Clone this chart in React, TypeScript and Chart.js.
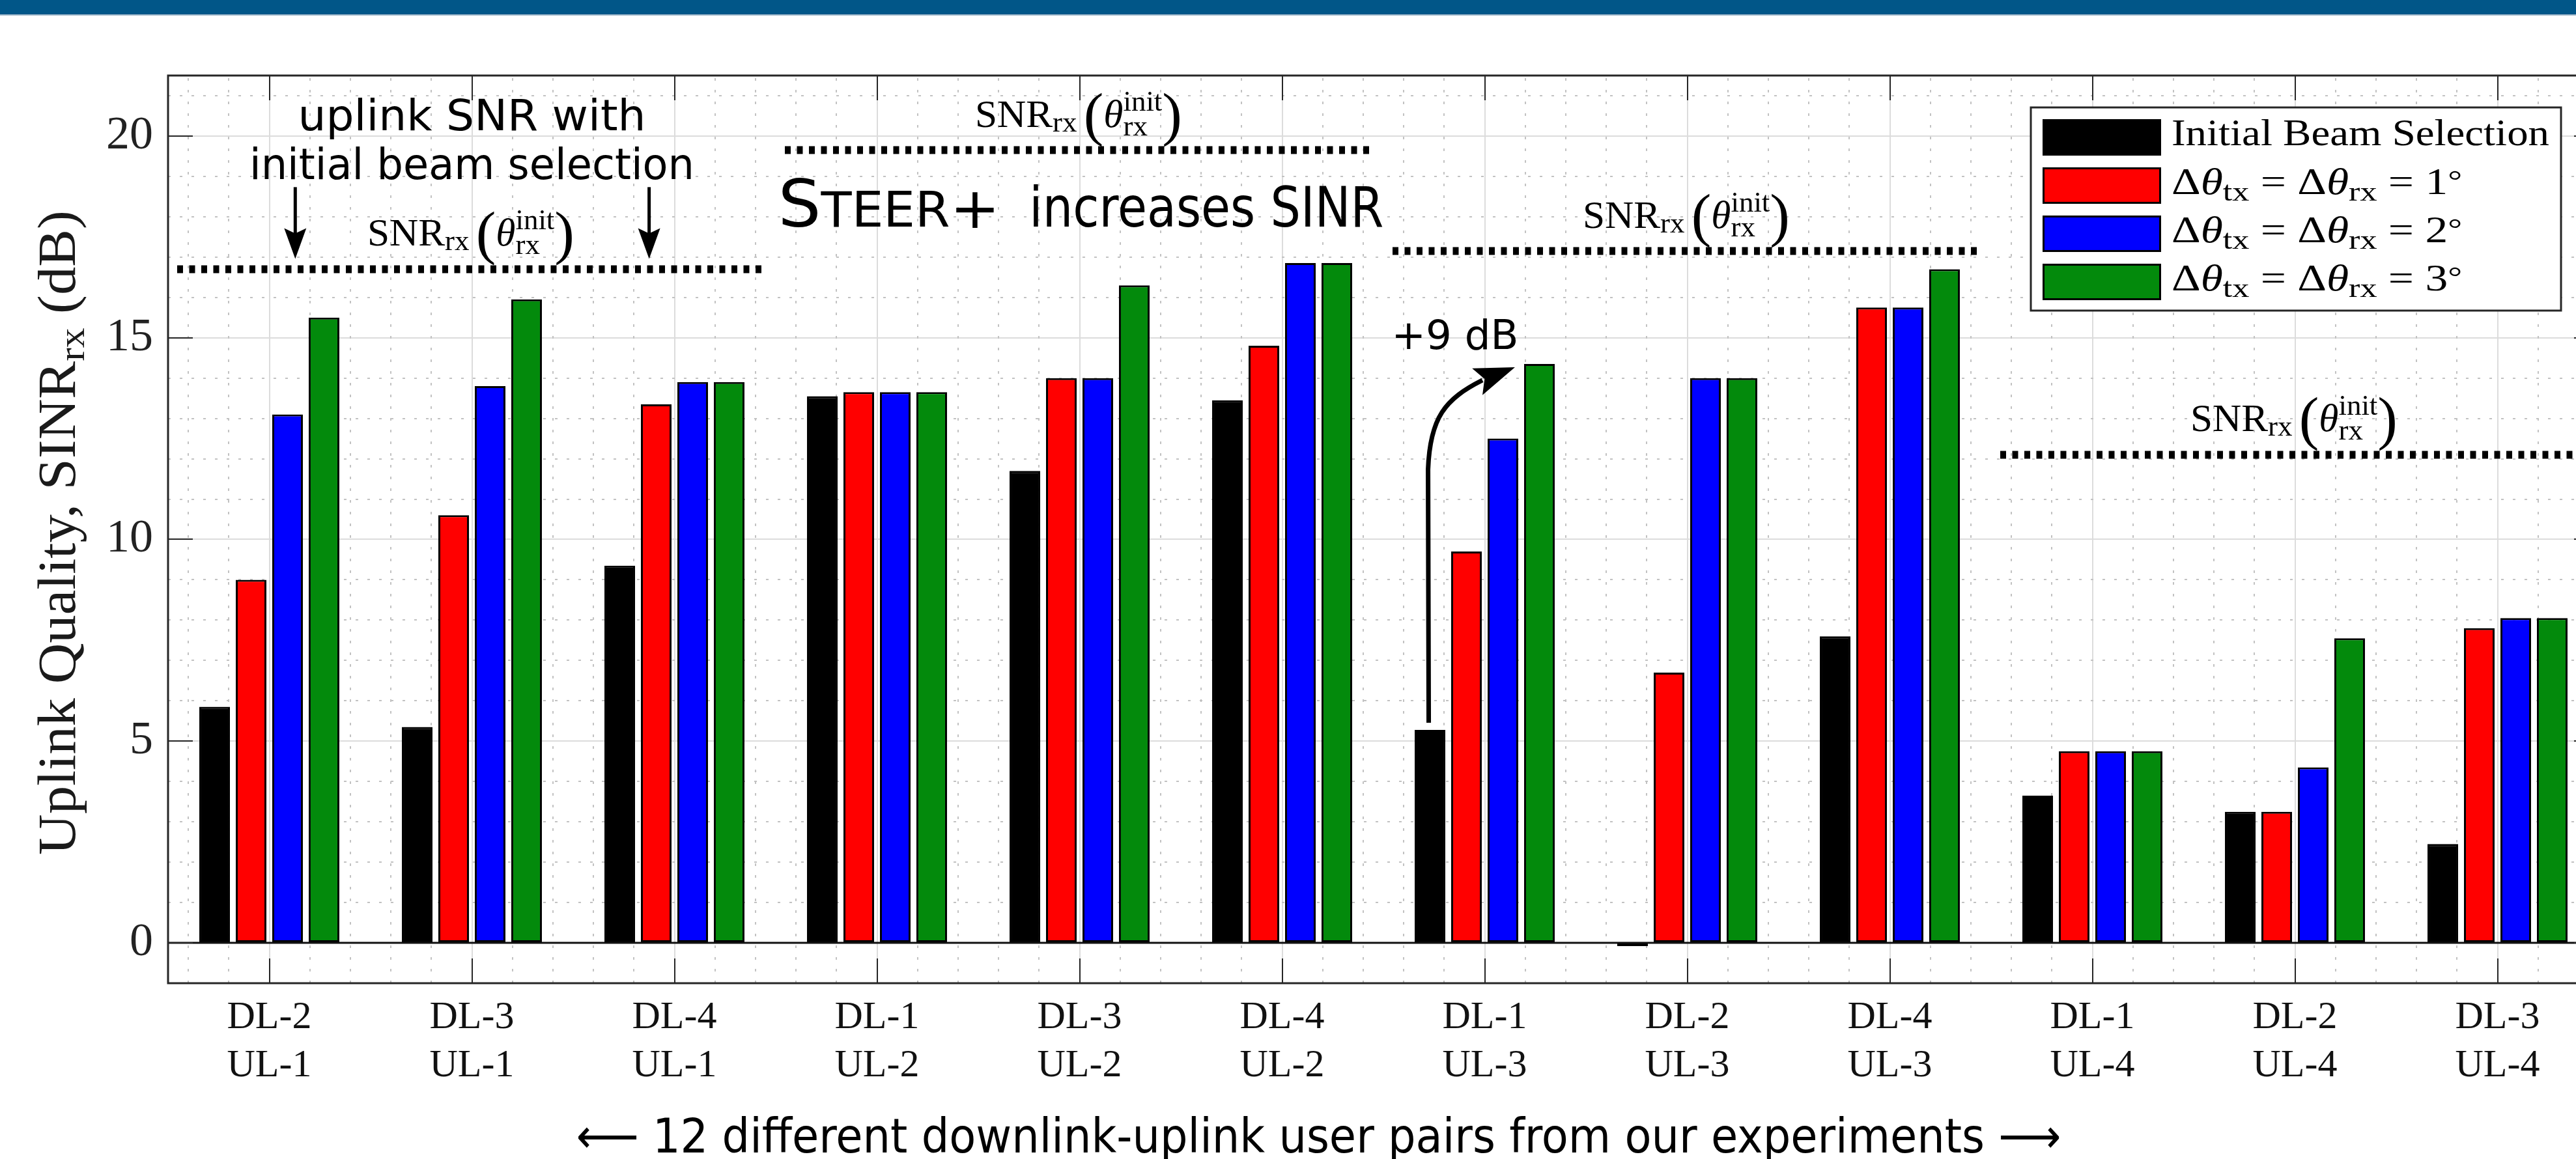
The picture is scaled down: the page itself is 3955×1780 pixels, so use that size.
import React, { useEffect, useRef } from 'react';
import { Chart, registerables } from 'chart.js';

Chart.register(...registerables);

// ---------------- data ----------------
const pairLabels: string[][] = [
  ['DL-2', 'UL-1'], ['DL-3', 'UL-1'], ['DL-4', 'UL-1'],
  ['DL-1', 'UL-2'], ['DL-3', 'UL-2'], ['DL-4', 'UL-2'],
  ['DL-1', 'UL-3'], ['DL-2', 'UL-3'], ['DL-4', 'UL-3'],
  ['DL-1', 'UL-4'], ['DL-2', 'UL-4'], ['DL-3', 'UL-4'],
];
const initialBeam = [5.85, 5.35, 9.35, 13.55, 11.7, 13.45, 5.28, -0.08, 7.6, 3.65, 3.25, 2.45];
const delta1 = [9.0, 10.6, 13.35, 13.65, 14.0, 14.8, 9.7, 6.7, 15.75, 4.75, 3.25, 7.8];
const delta2 = [13.1, 13.8, 13.9, 13.65, 14.0, 16.85, 12.5, 14.0, 15.75, 4.75, 4.35, 8.05];
const delta3 = [15.5, 15.95, 13.9, 13.65, 16.3, 16.85, 14.35, 14.0, 16.7, 4.75, 7.55, 8.05];
const seriesNames = ['Initial Beam Selection', 'Δθtx = Δθrx = 1°', 'Δθtx = Δθrx = 2°', 'Δθtx = Δθrx = 3°'];
const seriesColors = ['#000000', '#ff0000', '#0000ff', '#038a0c'];
const legendSteps = ['1', '2', '3'];
const yTickValues = [0, 5, 10, 15, 20];
// SNR_rx(theta_rx^init) per uplink user, spanning the groups of that UL user
const snrInit = [16.7, 19.65, 17.15, 12.1];
const snrGroupStart = [0, 3, 6, 9];

// ---------------- fonts ----------------
const SERIF = '"Liberation Serif", "DejaVu Serif", serif';
const SANS = '"DejaVu Sans", "Liberation Sans", sans-serif';
const CANVAS_W = 4010;
const CANVAS_H = 1780;

type Run = {
  t?: string; size: number; fam?: string; italic?: boolean; dy?: number;
  sup?: string; sub?: string; supDy?: number; subDy?: number;
};

function fontOf(r: Run) {
  return `${r.italic ? 'italic ' : ''}${r.size}px ${r.fam ?? SERIF}`;
}
function runWidth(ctx: CanvasRenderingContext2D, r: Run) {
  ctx.font = fontOf(r);
  if (r.sup !== undefined) {
    return Math.max(ctx.measureText(r.sup).width, ctx.measureText(r.sub ?? '').width);
  }
  return ctx.measureText(r.t ?? '').width;
}
function drawRuns(
  ctx: CanvasRenderingContext2D, runs: Run[], x: number, y: number,
  align: 'left' | 'center' | 'right', width?: number, rotate?: number, color = '#000'
) {
  const widths = runs.map((r) => runWidth(ctx, r));
  const total = widths.reduce((a, b) => a + b, 0);
  const sx = width ? width / total : 1;
  ctx.save();
  ctx.translate(x, y);
  if (rotate) ctx.rotate(rotate);
  ctx.scale(sx, 1);
  let cx = align === 'center' ? -total / 2 : align === 'right' ? -total : 0;
  ctx.textAlign = 'left';
  ctx.textBaseline = 'alphabetic';
  ctx.fillStyle = color;
  runs.forEach((r, i) => {
    ctx.font = fontOf(r);
    if (r.sup !== undefined) {
      ctx.fillText(r.sup, cx, r.supDy ?? 0);
      ctx.fillText(r.sub ?? '', cx, r.subDy ?? 0);
    } else {
      ctx.fillText(r.t ?? '', cx, r.dy ?? 0);
    }
    cx += widths[i];
  });
  ctx.restore();
}

const snrLabelRuns: Run[] = [
  { t: 'SNR', size: 60 },
  { t: 'rx', size: 44, dy: 7 },
  { t: ' ', size: 40 },
  { t: '(', size: 90, dy: 11 },
  { t: 'θ', size: 60, italic: true },
  { sup: 'init', sub: 'rx', size: 44, supDy: -25, subDy: 13 },
  { t: ')', size: 90, dy: 11 },
];

function legendRuns(step: string): Run[] {
  return [
    { t: 'Δ', size: 56 }, { t: 'θ', size: 56, italic: true }, { t: 'tx', size: 42, dy: 10 },
    { t: ' = ', size: 56 },
    { t: 'Δ', size: 56 }, { t: 'θ', size: 56, italic: true }, { t: 'rx', size: 42, dy: 10 },
    { t: ' = ', size: 56 }, { t: step, size: 56 }, { t: '°', size: 44, dy: -6 },
  ];
}

function arrowHead(ctx: CanvasRenderingContext2D, tx: number, ty: number, dx: number, dy: number, len: number, half: number, notch: number) {
  const n = Math.hypot(dx, dy);
  const ux = dx / n, uy = dy / n;
  const px = -uy, py = ux;
  const bx = tx - ux * len, by = ty - uy * len;
  ctx.beginPath();
  ctx.moveTo(tx, ty);
  ctx.lineTo(bx + px * half, by + py * half);
  ctx.lineTo(bx + ux * notch, by + uy * notch);
  ctx.lineTo(bx - px * half, by - py * half);
  ctx.closePath();
  ctx.fill();
}

const overlay = {
  id: 'overlay',
  beforeDraw(chart: any) {
    const ctx: CanvasRenderingContext2D = chart.ctx;
    ctx.save();
    ctx.fillStyle = '#ffffff';
    ctx.fillRect(0, 0, chart.width, chart.height);
    ctx.fillStyle = '#015688';
    ctx.fillRect(0, 0, chart.width, 22);
    ctx.fillStyle = '#a3b9cb';
    ctx.fillRect(0, 22, chart.width, 2);
    ctx.restore();
  },
  beforeDatasetsDraw(chart: any) {
    const ctx: CanvasRenderingContext2D = chart.ctx;
    const { left, right, top, bottom } = chart.chartArea;
    const xs = chart.scales.x, ys = chart.scales.y;
    const x0 = xs.getPixelForValue(0), x1 = xs.getPixelForValue(1);
    ctx.save();
    ctx.beginPath();
    ctx.rect(left, top, right - left, bottom - top);
    ctx.clip();
    ctx.strokeStyle = '#c2c2c2';
    ctx.lineWidth = 2;
    ctx.setLineDash([4, 14]);
    for (let v = -1; v <= 21; v++) {
      if (v % 5 === 0) continue;
      const y = Math.round(ys.getPixelForValue(v));
      ctx.beginPath(); ctx.moveTo(left, y); ctx.lineTo(right, y); ctx.stroke();
    }
    for (let k = -2; k <= 57; k++) {
      if (k % 5 === 0) continue;
      const x = Math.round(x0 + (k / 5) * (x1 - x0));
      ctx.beginPath(); ctx.moveTo(x, bottom); ctx.lineTo(x, top); ctx.stroke();
    }
    ctx.restore();
  },
  afterDatasetsDraw(chart: any) {
    const ctx: CanvasRenderingContext2D = chart.ctx;
    const { left, right, top, bottom } = chart.chartArea;
    const xs = chart.scales.x, ys = chart.scales.y;
    const x0 = xs.getPixelForValue(0), x1 = xs.getPixelForValue(1);
    const xAt = (u: number) => x0 + u * (x1 - x0);
    const yAt = (v: number) => ys.getPixelForValue(v);

    ctx.save();
    // bar baseline
    ctx.strokeStyle = '#111';
    ctx.lineWidth = 3;
    ctx.beginPath(); ctx.moveTo(left, yAt(0)); ctx.lineTo(right, yAt(0)); ctx.stroke();

    // axes box and inner ticks
    ctx.strokeStyle = '#262626';
    ctx.lineWidth = 3;
    ctx.strokeRect(left, top, right - left, bottom - top);
    ctx.lineWidth = 2;
    for (let i = 0; i < pairLabels.length; i++) {
      const x = Math.round(xAt(i));
      ctx.beginPath(); ctx.moveTo(x, bottom); ctx.lineTo(x, bottom - 38); ctx.stroke();
      ctx.beginPath(); ctx.moveTo(x, top); ctx.lineTo(x, top + 38); ctx.stroke();
    }
    yTickValues.forEach((v) => {
      const y = Math.round(yAt(v));
      ctx.beginPath(); ctx.moveTo(left, y); ctx.lineTo(left + 38, y); ctx.stroke();
      ctx.beginPath(); ctx.moveTo(right, y); ctx.lineTo(right - 38, y); ctx.stroke();
    });

    // SNR_rx(theta_init) dotted lines + labels
    snrInit.forEach((v, k) => {
      const g = snrGroupStart[k];
      const xa = xAt(g - 0.455), xb = xAt(g + 2.445);
      const y = yAt(v);
      ctx.save();
      ctx.strokeStyle = '#000';
      ctx.lineWidth = 12;
      ctx.setLineDash([9, 9.5]);
      ctx.beginPath(); ctx.moveTo(xa, y); ctx.lineTo(xb, y); ctx.stroke();
      ctx.restore();
      drawRuns(ctx, snrLabelRuns, (xa + xb) / 2, y - 36, 'center', 318);
    });

    // "uplink SNR with initial beam selection" + two arrows
    const ySnr0 = yAt(snrInit[0]);
    drawRuns(ctx, [{ t: 'uplink SNR with', size: 66, fam: SANS }], xAt(1), ySnr0 - 213, 'center', 534);
    drawRuns(ctx, [{ t: 'initial beam selection', size: 66, fam: SANS }], xAt(1), ySnr0 - 138, 'center', 683);
    ctx.fillStyle = '#000';
    ctx.strokeStyle = '#000';
    ctx.lineWidth = 5;
    [1 - 0.872, 1 + 0.875].forEach((u) => {
      const x = xAt(u);
      const tipY = ySnr0 - 16;
      ctx.beginPath(); ctx.moveTo(x, ySnr0 - 126); ctx.lineTo(x, tipY - 30); ctx.stroke();
      arrowHead(ctx, x, tipY, 0, 1, 47, 17, 8);
    });

    // STEER+ increases SINR
    drawRuns(ctx, [
      { t: 'S', size: 100, fam: SANS },
      { t: 'TEER', size: 74, fam: SANS },
      { t: '+', size: 88, fam: SANS, dy: 2 },
    ], xAt(2.511), yAt(17.76), 'left', 341);
    drawRuns(ctx, [{ t: 'increases SINR', size: 85, fam: SANS }], xAt(3.752), yAt(17.76), 'left', 544);

    // +9 dB with curved arrow
    drawRuns(ctx, [{ t: '+9 dB', size: 63, fam: SANS }], xAt(5.54), yAt(14.726), 'left', 195);
    const black = chart.getDatasetMeta(0).data[6];
    const green = chart.getDatasetMeta(3).data[6];
    const sx0 = black.x - 2, sy0 = black.y - 11;
    const tx = green.x - green.width / 2 - 14, ty = green.y + 5;
    ctx.lineWidth = 7;
    ctx.lineCap = 'butt';
    ctx.beginPath();
    ctx.moveTo(sx0, sy0);
    ctx.lineTo(sx0 - 1, ty + 157);
    ctx.bezierCurveTo(sx0 + 2, ty + 77, sx0 + 25, ty + 49, tx - 50, ty + 20);
    ctx.stroke();
    arrowHead(ctx, tx, ty, 57, -22, 62, 22, 12);

    // legend
    const lr = right - 58, lt = top + 49, lw = 814, lh = 312;
    const ll = lr - lw;
    ctx.fillStyle = '#fff';
    ctx.fillRect(ll, lt, lw, lh);
    ctx.strokeStyle = '#262626';
    ctx.lineWidth = 3;
    ctx.strokeRect(ll, lt, lw, lh);
    seriesColors.forEach((c, i) => {
      const cy = lt + 46 + i * 74;
      ctx.fillStyle = '#000';
      ctx.fillRect(ll + 18, cy - 28, 182, 56);
      ctx.fillStyle = c;
      ctx.fillRect(ll + 21, cy - 25, 176, 50);
      if (i === 0) {
        drawRuns(ctx, [{ t: seriesNames[0], size: 58 }], ll + 216, cy + 12, 'left', 580);
      } else {
        drawRuns(ctx, legendRuns(legendSteps[i - 1]), ll + 216, cy + 13, 'left', 446);
      }
    });

    // axis titles
    drawRuns(ctx, [
      { t: 'Uplink Quality, SINR', size: 82 },
      { t: 'rx', size: 58, dy: 14 },
      { t: ' (dB)', size: 82 },
    ], 115, (top + bottom) / 2 + 5, 'center', 990, -Math.PI / 2, '#1a1a1a');
    drawRuns(ctx, [{ t: '⟵ 12 different downlink-uplink user pairs from our experiments ⟶', size: 73, fam: SANS }],
      xAt(5.18), 1770, 'center', 2280);
    ctx.restore();
  },
};

export default function App() {
  const ref = useRef<HTMLCanvasElement>(null);
  useEffect(() => {
    const canvas = ref.current;
    if (!canvas) return;
    const datasets = [initialBeam, delta1, delta2, delta3].map((d, i) => ({
      label: seriesNames[i],
      data: d,
      backgroundColor: seriesColors[i],
      borderColor: '#000000',
      borderWidth: 3,
      borderSkipped: false as const,
      categoryPercentage: 0.72,
      barPercentage: 0.84,
    }));
    const chart = new Chart(canvas, {
      type: 'bar',
      data: { labels: pairLabels, datasets },
      options: {
        animation: false,
        responsive: false,
        devicePixelRatio: 1,
        layout: { padding: { top: 116, right: CANVAS_W - 3990, left: 0, bottom: 0 } },
        plugins: { legend: { display: false }, tooltip: { enabled: false } },
        scales: {
          x: {
            type: 'category',
            offset: true,
            grid: { offset: false, color: '#dcdcdc', lineWidth: 2, drawTicks: false },
            border: { display: false },
            ticks: {
              font: { family: SERIF, size: 60, lineHeight: 1.22 },
              color: '#111',
              padding: 17,
              maxRotation: 0,
              autoSkip: false,
            },
            afterFit: (s: any) => { s.height = CANVAS_H - 1510; },
          },
          y: {
            min: -1,
            max: 21.5,
            afterBuildTicks: (s: any) => { s.ticks = yTickValues.map((v) => ({ value: v })); },
            grid: { color: '#dcdcdc', lineWidth: 2, drawTicks: false },
            border: { display: false },
            ticks: { font: { family: SERIF, size: 72 }, color: '#222', padding: 23 },
            afterFit: (s: any) => { s.width = 258; },
          },
        },
      },
      plugins: [overlay],
    });
    return () => chart.destroy();
  }, []);
  return (
    <div style={{ position: 'fixed', left: 0, top: 0, width: 3955, height: CANVAS_H, overflow: 'hidden', background: '#fff' }}>
      <canvas ref={ref} width={CANVAS_W} height={CANVAS_H} style={{ display: 'block', width: CANVAS_W, height: CANVAS_H }} />
    </div>
  );
}
